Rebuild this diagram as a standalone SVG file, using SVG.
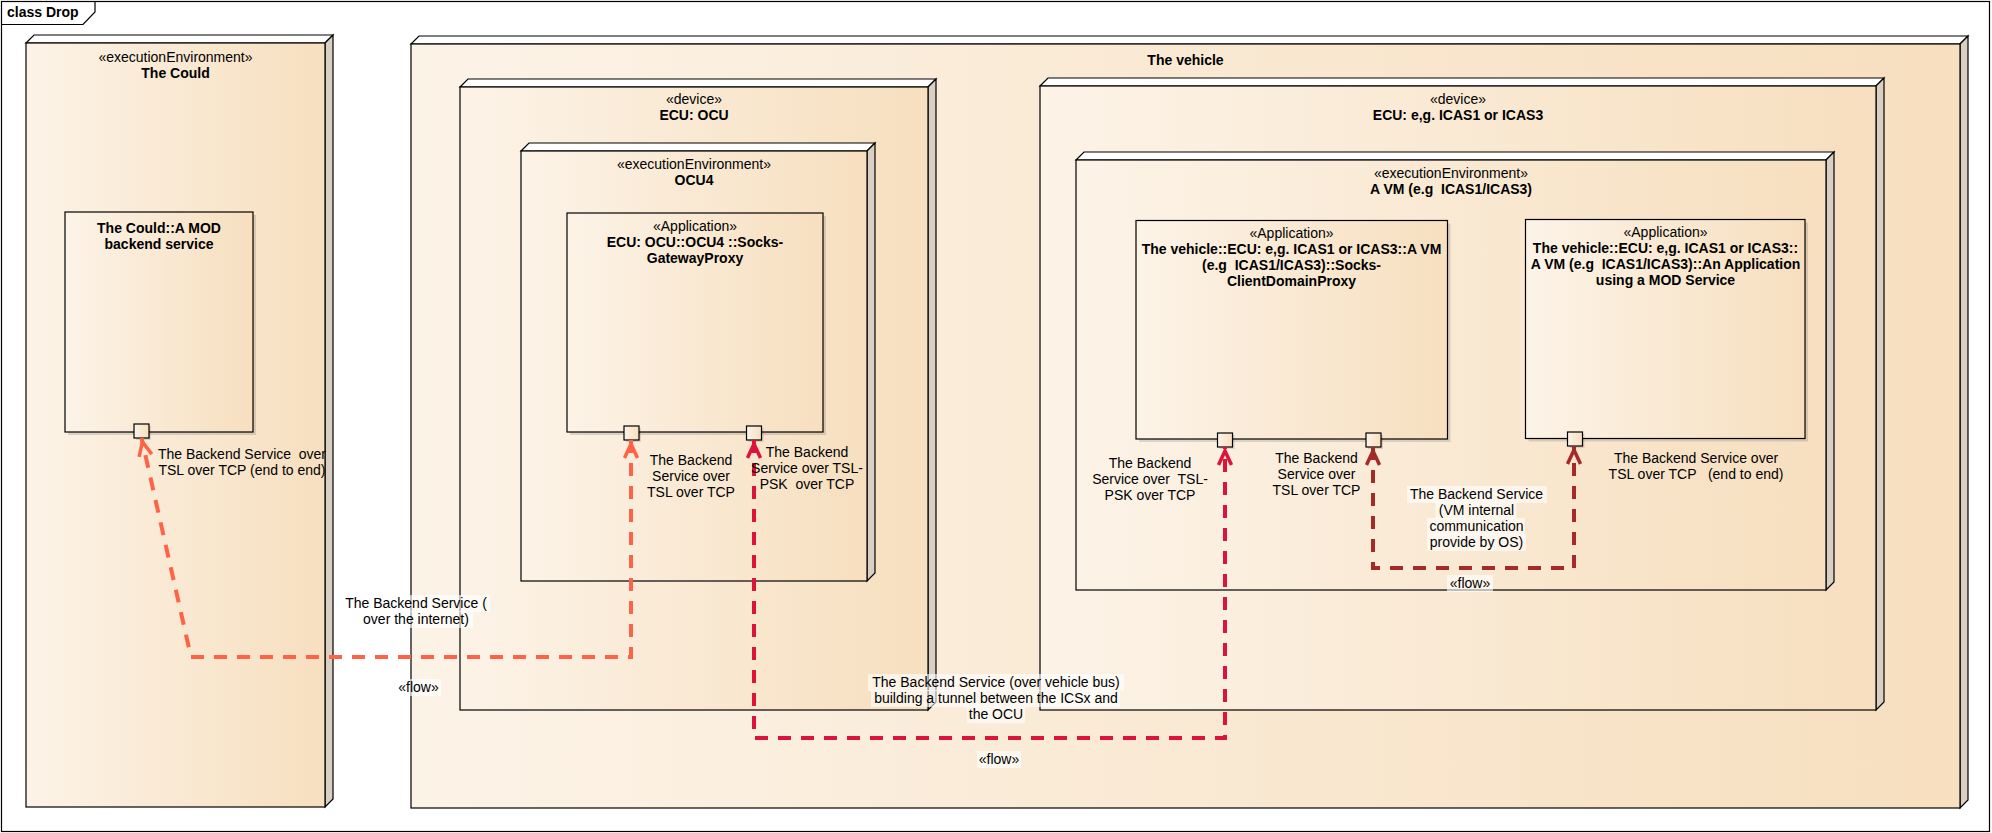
<svg xmlns="http://www.w3.org/2000/svg" width="1992" height="833" viewBox="0 0 1992 833">
<defs>
<linearGradient id="gr" x1="0" y1="0" x2="1" y2="0">
<stop offset="0" stop-color="#FCF3E7"/>
<stop offset="1" stop-color="#F7DFBF"/>
</linearGradient>
<marker id="aO" viewBox="0 0 24 16" refX="21" refY="8" markerWidth="24" markerHeight="16" markerUnits="userSpaceOnUse" orient="auto-start-reverse"><path d="M3,1.5 L17,8 L3,14.5" fill="none" stroke="#FF6347" stroke-width="3.5"/></marker>
<marker id="aC" viewBox="0 0 24 16" refX="21" refY="8" markerWidth="24" markerHeight="16" markerUnits="userSpaceOnUse" orient="auto-start-reverse"><path d="M3,1.5 L17,8 L3,14.5" fill="none" stroke="#DC143C" stroke-width="3.5"/></marker>
<marker id="aB" viewBox="0 0 24 16" refX="21" refY="8" markerWidth="24" markerHeight="16" markerUnits="userSpaceOnUse" orient="auto-start-reverse"><path d="M3,1.5 L17,8 L3,14.5" fill="none" stroke="#A52A2A" stroke-width="3.5"/></marker>
</defs>
<style>
.t{font-family:"Liberation Sans",Arial,sans-serif;font-size:14px;fill:#000;text-anchor:middle;white-space:pre}
.b{font-weight:bold}
.front{fill:url(#gr);stroke:#000;stroke-width:1.2}
.top{fill:#fff;stroke:#000;stroke-width:1.2}
.side{fill:#D9D0C3;stroke:#000;stroke-width:1.2}
.sh{fill:#000;fill-opacity:0.12}
.port{fill:url(#gr);stroke:#000;stroke-width:1.2}
.lbg{fill:#fff;fill-opacity:0.6}
.c{fill:none;stroke-width:4;stroke-dasharray:13 10}
</style>
<rect x="0" y="0" width="1992" height="833" fill="#fff"/>
<g id="frame">
<rect x="1.5" y="1.5" width="1988" height="830" fill="none" stroke="#000" stroke-width="1.2"/>
<path d="M1.5,24.5 L83,24.5 L95,12 L95,1.5" fill="none" stroke="#000" stroke-width="1.2"/>
<text class="t b" x="7" y="17" style="text-anchor:start">class Drop</text>
</g>

<g id="node-could">
<polygon class="top" points="26,43 34,35 333,35 325,43"/>
<polygon class="side" points="325,43 333,35 333,799 325,807"/>
<rect class="front" x="26" y="43" width="299" height="764"/>
<text class="t" x="175.5" y="62">«executionEnvironment»</text>
<text class="t b" x="175.5" y="78">The Could</text>
<g id="node-could-backend">
<rect class="sh" x="68" y="215" width="188" height="220"/>
<rect class="front" x="65" y="212" width="188" height="220"/>
<text class="t b" x="159" y="233">The Could::A MOD</text>
<text class="t b" x="159" y="249">backend service</text>
<rect class="sh" x="136" y="426" width="15" height="14"/>
<rect class="port" x="134" y="424" width="15" height="14"/>
</g>
</g>

<g id="node-vehicle">
<polygon class="top" points="411,44 419,36 1968,36 1960,44"/>
<polygon class="side" points="1960,44 1968,36 1968,800 1960,808"/>
<rect class="front" x="411" y="44" width="1549" height="764"/>
<text class="t b" x="1185.5" y="65">The vehicle</text>

<g id="node-ecu-ocu">
<polygon class="top" points="460,87 468,79 936,79 928,87"/>
<polygon class="side" points="928,87 936,79 936,702 928,710"/>
<rect class="front" x="460" y="87" width="468" height="623"/>
<text class="t" x="694" y="104">«device»</text>
<text class="t b" x="694" y="120">ECU: OCU</text>
<g id="node-ocu4">
<polygon class="top" points="521,151 529,143 875,143 867,151"/>
<polygon class="side" points="867,151 875,143 875,573 867,581"/>
<rect class="front" x="521" y="151" width="346" height="430"/>
<text class="t" x="694" y="169">«executionEnvironment»</text>
<text class="t b" x="694" y="185">OCU4</text>
<g id="node-gateway-proxy">
<rect class="sh" x="570" y="216" width="256" height="219"/>
<rect class="front" x="567" y="213" width="256" height="219"/>
<text class="t" x="695" y="231">«Application»</text>
<text class="t b" x="695" y="247">ECU: OCU::OCU4 ::Socks-</text>
<text class="t b" x="695" y="263">GatewayProxy</text>
<rect class="sh" x="626" y="428" width="15" height="14"/>
<rect class="port" x="624" y="426" width="15" height="14"/>
<rect class="sh" x="748.5" y="428" width="15" height="14"/>
<rect class="port" x="746.5" y="426" width="15" height="14"/>
</g>
</g>
</g>

<g id="node-ecu-icas">
<polygon class="top" points="1040,86 1048,78 1884,78 1876,86"/>
<polygon class="side" points="1876,86 1884,78 1884,702 1876,710"/>
<rect class="front" x="1040" y="86" width="836" height="624"/>
<text class="t" x="1458" y="104">«device»</text>
<text class="t b" x="1458" y="120">ECU: e,g. ICAS1 or ICAS3</text>
<g id="node-vm">
<polygon class="top" points="1076,160 1084,152 1834,152 1826,160"/>
<polygon class="side" points="1826,160 1834,152 1834,582 1826,590"/>
<rect class="front" x="1076" y="160" width="750" height="430"/>
<text class="t" x="1451" y="178">«executionEnvironment»</text>
<text class="t b" x="1451" y="194">A VM (e.g  ICAS1/ICAS3)</text>
<g id="node-client-proxy">
<rect class="sh" x="1139" y="223.5" width="311.5" height="218.5"/>
<rect class="front" x="1136" y="220.5" width="311.5" height="218.5"/>
<text class="t" x="1291.5" y="238">«Application»</text>
<text class="t b" x="1291.5" y="254">The vehicle::ECU: e,g. ICAS1 or ICAS3::A VM</text>
<text class="t b" x="1291.5" y="270">(e.g  ICAS1/ICAS3)::Socks-</text>
<text class="t b" x="1291.5" y="286">ClientDomainProxy</text>
<rect class="sh" x="1219.5" y="435" width="15" height="14"/>
<rect class="port" x="1217.5" y="433" width="15" height="14"/>
<rect class="sh" x="1368" y="435" width="15" height="14"/>
<rect class="port" x="1366" y="433" width="15" height="14"/>
</g>
<g id="node-mod-app">
<rect class="sh" x="1528.5" y="222.5" width="279.5" height="219"/>
<rect class="front" x="1525.5" y="219.5" width="279.5" height="219"/>
<text class="t" x="1665.5" y="237">«Application»</text>
<text class="t b" x="1665.5" y="253">The vehicle::ECU: e,g. ICAS1 or ICAS3::</text>
<text class="t b" x="1665.5" y="269">A VM (e.g  ICAS1/ICAS3)::An Application</text>
<text class="t b" x="1665.5" y="285">using a MOD Service</text>
<rect class="sh" x="1569.5" y="434" width="15" height="14"/>
<rect class="port" x="1567.5" y="432" width="15" height="14"/>
</g>
</g>
</g>
</g>

<g id="connectors">
<path class="c" d="M631,440 L631,657 L191,657 L141.5,438" stroke="#FF6347" marker-start="url(#aO)" marker-end="url(#aO)"/>
<path class="c" d="M754,440 L754,738 L1225,738 L1225,447" stroke="#DC143C" marker-start="url(#aC)" marker-end="url(#aC)"/>
<path class="c" d="M1373,447 L1373,568 L1574,568 L1574,446" stroke="#A52A2A" marker-start="url(#aB)" marker-end="url(#aB)"/>

<g id="labels-internet">
<text class="t" x="242" y="459">The Backend Service  over</text>
<text class="t" x="242" y="475">TSL over TCP (end to end)</text>
<text class="t" x="691" y="465">The Backend</text>
<text class="t" x="691" y="481">Service over</text>
<text class="t" x="691" y="497">TSL over TCP</text>
<rect class="lbg" x="342" y="595" width="148" height="17"/>
<rect class="lbg" x="359" y="611" width="114" height="17"/>
<text class="t" x="416" y="608">The Backend Service (</text>
<text class="t" x="416" y="624">over the internet)</text>
<rect class="lbg" x="396" y="679" width="45" height="17"/>
<text class="t" x="418.5" y="692">«flow»</text>
</g>
<g id="labels-bus">
<text class="t" x="807" y="457">The Backend</text>
<text class="t" x="807" y="473">Service over TSL-</text>
<text class="t" x="807" y="489">PSK  over TCP</text>
<text class="t" x="1150" y="468">The Backend</text>
<text class="t" x="1150" y="484">Service over  TSL-</text>
<text class="t" x="1150" y="500">PSK over TCP</text>
<rect class="lbg" x="868" y="674" width="256" height="17"/>
<rect class="lbg" x="871" y="690" width="249" height="17"/>
<rect class="lbg" x="967" y="706" width="58" height="17"/>
<text class="t" x="996" y="687">The Backend Service (over vehicle bus)</text>
<text class="t" x="996" y="703">building a tunnel between the ICSx and</text>
<text class="t" x="996" y="719">the OCU</text>
<rect class="lbg" x="977" y="751" width="44" height="17"/>
<text class="t" x="999" y="764">«flow»</text>
</g>
<g id="labels-vm">
<text class="t" x="1316.5" y="463">The Backend</text>
<text class="t" x="1316.5" y="479">Service over</text>
<text class="t" x="1316.5" y="495">TSL over TCP</text>
<text class="t" x="1696" y="463">The Backend Service over</text>
<text class="t" x="1696" y="479">TSL over TCP   (end to end)</text>
<rect class="lbg" x="1407" y="486" width="140" height="17"/>
<rect class="lbg" x="1435.5" y="502" width="81" height="17"/>
<rect class="lbg" x="1427" y="518" width="98" height="17"/>
<rect class="lbg" x="1427" y="534" width="99" height="17"/>
<text class="t" x="1476.5" y="499">The Backend Service</text>
<text class="t" x="1476.5" y="515">(VM internal</text>
<text class="t" x="1476.5" y="531">communication</text>
<text class="t" x="1476.5" y="547">provide by OS)</text>
<rect class="lbg" x="1447" y="575" width="46" height="17"/>
<text class="t" x="1470" y="588">«flow»</text>
</g>
</g>
</svg>
